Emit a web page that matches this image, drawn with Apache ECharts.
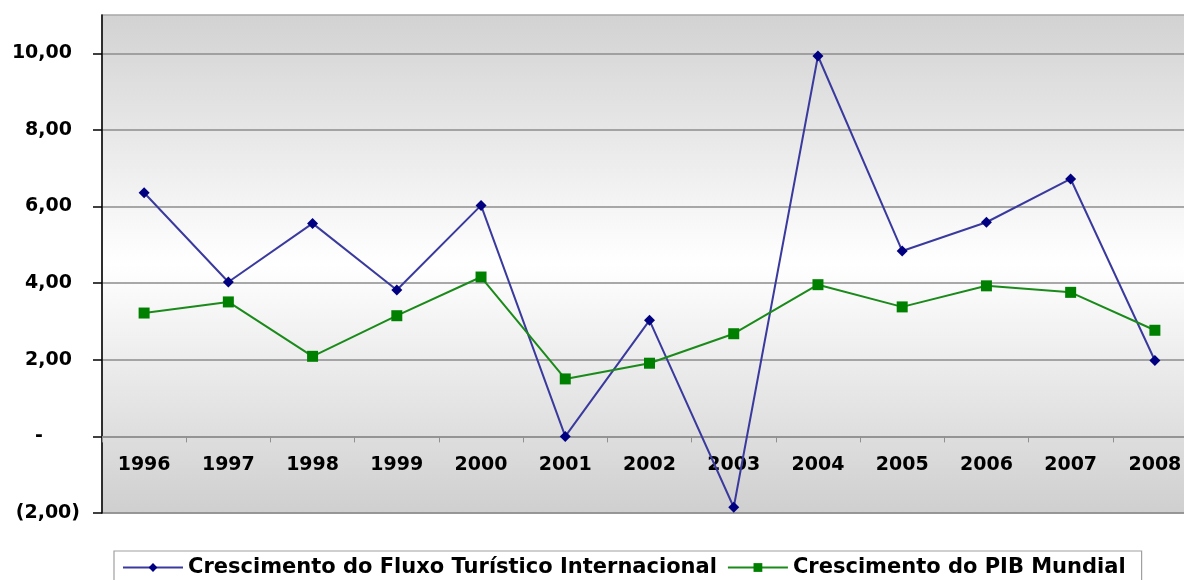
<!DOCTYPE html>
<html>
<head>
<meta charset="utf-8">
<script src="https://cdn.jsdelivr.net/npm/echarts@6/dist/echarts.min.js"></script>
<style>html,body{margin:0;padding:0;background:#fff}#c{width:1184px;height:580px}</style>
</head>
<body>
<div id="c"></div>
<script>
const categories = ['1996','1997','1998','1999','2000','2001','2002','2003','2004','2005','2006','2007','2008'];
const fluxoTuristico = [6.36, 4.03, 5.56, 3.82, 6.03, 0.00, 3.03, -1.85, 9.93, 4.84, 5.59, 6.72, 1.98];
const pibMundial = [3.22, 3.51, 2.09, 3.15, 4.16, 1.50, 1.91, 2.68, 3.96, 3.38, 3.93, 3.76, 2.77];
const yTicks = [-2, 0, 2, 4, 6, 8, 10];
const seriesNames = ['Crescimento do Fluxo Turístico Internacional', 'Crescimento do PIB Mundial'];

const FONT = 'DejaVu Sans';
function fmt(v) {
  if (Math.abs(v) < 1e-9) return '{z|-}';
  const s = Math.abs(v).toFixed(2).replace('.', ',');
  if (v < 0) return '{n|(' + s + ')}';
  return '{p|' + s + '}';
}
const lblStyle = {color: '#000', fontFamily: FONT, fontWeight: 'bold', fontSize: 19};

const chart = echarts.init(document.getElementById('c'), null, {renderer: 'canvas'});
chart.setOption({
  animation: false,
  backgroundColor: '#fff',
  grid: {
    left: 102, top: 15, width: 1095, height: 498,
    outerBoundsMode: 'none',
    containLabel: false,
    show: true,
    borderColor: '#a8a8a8', borderWidth: 1.5,
    backgroundColor: {
      type: 'linear', x: 0, y: 0, x2: 0, y2: 1,
      colorStops: [
        {offset: 0, color: '#d2d2d2'},
        {offset: 0.5, color: '#ffffff'},
        {offset: 1, color: '#cfcfcf'}
      ]
    }
  },
  legend: {
    left: 114, top: 551,
    data: seriesNames,
    orient: 'horizontal',
    borderColor: '#a0a0a0', borderWidth: 1.2,
    padding: [6, 16, 20, 8],
    itemWidth: 60, itemHeight: 11, itemGap: 10,
    textStyle: {color: '#000', fontFamily: FONT, fontWeight: 'bold', fontSize: 21}
  },
  xAxis: {
    type: 'category',
    data: categories,
    boundaryGap: true,
    axisLine: {onZero: true, lineStyle: {color: '#909090', width: 1.5}},
    axisTick: {show: true, length: 6, alignWithLabel: false, lineStyle: {color: '#909090', width: 1}},
    axisLabel: Object.assign({margin: -57, interval: 0}, lblStyle),
    splitLine: {show: false}
  },
  yAxis: {
    type: 'value',
    min: -2, max: 11, interval: 2,
    axisLine: {show: true, lineStyle: {color: '#000', width: 1.5}},
    axisTick: {show: true, length: 9, customValues: yTicks, lineStyle: {color: '#000', width: 1.5}},
    axisLabel: Object.assign({
      margin: 22, customValues: yTicks, formatter: fmt,
      rich: {
        p: Object.assign({padding: [0, 8, 0, 0]}, lblStyle),
        n: Object.assign({}, lblStyle),
        z: Object.assign({padding: [0, 37, 0, 0]}, lblStyle)
      }
    }, lblStyle),
    splitLine: {show: true, lineStyle: {color: '#8c8c8c', width: 1.5}}
  },
  series: [
    {
      name: seriesNames[0], type: 'line', data: fluxoTuristico,
      symbol: 'diamond', symbolSize: 11,
      lineStyle: {color: '#3a3a9e', width: 2},
      itemStyle: {color: '#000080'}
    },
    {
      name: seriesNames[1], type: 'line', data: pibMundial,
      symbol: 'rect', symbolSize: 11,
      lineStyle: {color: '#1a8a1a', width: 2},
      itemStyle: {color: '#008000'}
    }
  ]
});
</script>
</body>
</html>
